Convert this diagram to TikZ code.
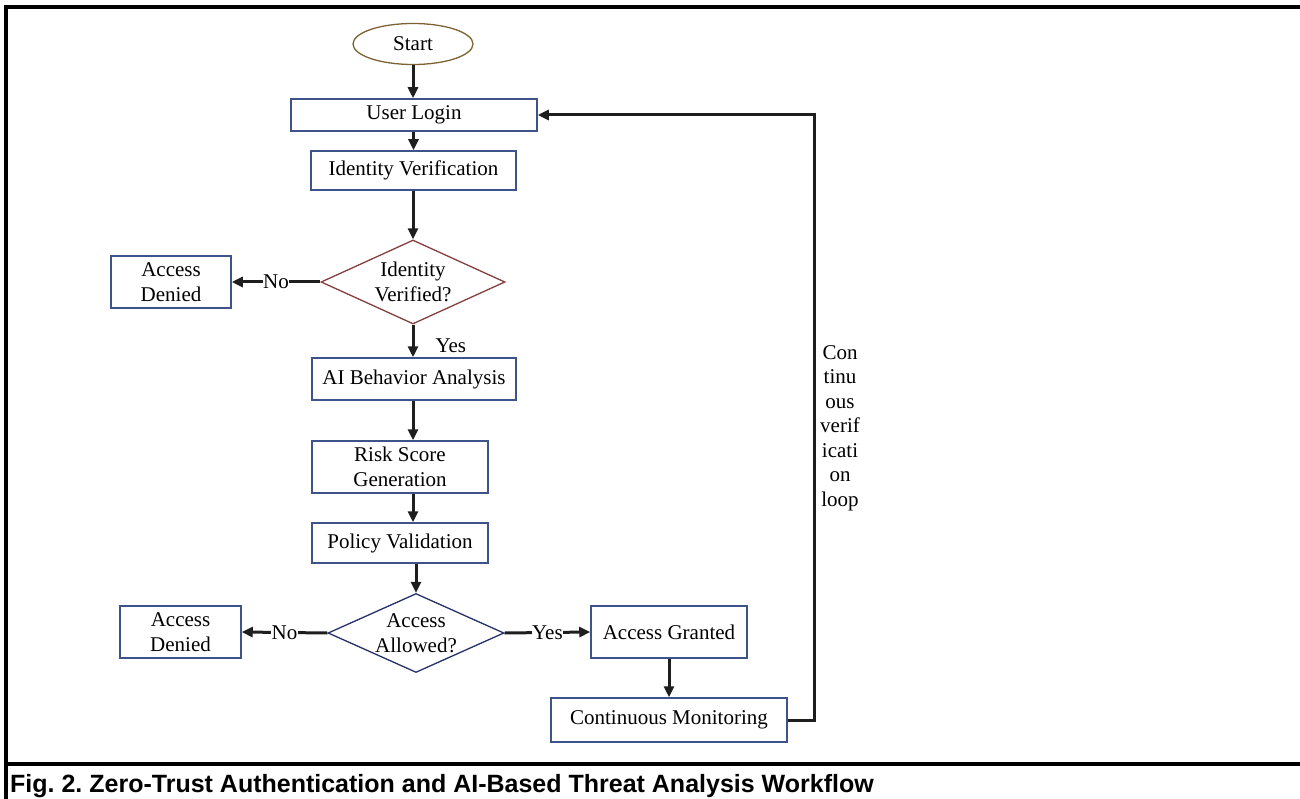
\documentclass[tikz,border=0pt]{standalone}
\usepackage{fontspec}
\setmainfont{Liberation Serif}
\setsansfont{Liberation Sans}
\usetikzlibrary{shapes.geometric,arrows.meta}
\definecolor{boxblue}{RGB}{62,82,140}
\definecolor{startbrown}{RGB}{125,98,52}
\definecolor{decred}{RGB}{132,62,62}
\definecolor{decblue}{RGB}{38,48,104}
\definecolor{arrowcol}{RGB}{30,30,30}
\frenchspacing
\tikzset{
  txt/.style={font=\rmfamily\fontsize{21}{24.5}\selectfont},
  stepbox/.style={txt, draw=boxblue, line width=1.5pt, fill=white, inner sep=0pt, align=center},
  startnode/.style={txt, ellipse, draw=startbrown, line width=1.3pt, inner sep=0pt, minimum width=120, minimum height=41},
  decnode/.style={txt, diamond, line width=1.3pt, inner sep=0pt, align=center},
  arr/.style={draw=arrowcol, line width=3pt, -{Triangle[length=11pt,width=10pt]}},
  lbl/.style={txt, fill=white, inner sep=0.5pt},
  frameline/.style={draw=black, line width=3.6pt}
}
\begin{document}
\begin{tikzpicture}[x=1pt,y=-1pt]
\useasboundingbox (0,0) rectangle (1300,799);
% frame
\draw[frameline] (6,799) -- (6,7) -- (1300,7);
\draw[frameline] (6,764) -- (1300,764);
% nodes
\node[startnode] (start) at (413,44) {Start};
\node[stepbox, minimum width=246, minimum height=32] (user) at (414,115) {User Login};
\node[stepbox, minimum width=205, minimum height=39] (idv) at (413.5,170.5) {Identity Verification};
\node[decnode, draw=decred, minimum width=184, minimum height=84, aspect=2.19] (dec1) at (413,282) {Identity\\Verified?};
\node[stepbox, minimum width=120, minimum height=52] (den1) at (171,282) {Access\\Denied};
\node[stepbox, minimum width=204, minimum height=42] (ai) at (414,379) {AI Behavior Analysis};
\node[stepbox, minimum width=176, minimum height=52] (risk) at (400,467) {Risk Score\\Generation};
\node[stepbox, minimum width=176, minimum height=40] (pol) at (400,543) {Policy Validation};
\node[decnode, draw=decblue, minimum width=176, minimum height=79, aspect=2.23] (dec2) at (416,633) {Access\\Allowed?};
\node[stepbox, minimum width=121, minimum height=52] (den2) at (180.5,632) {Access\\Denied};
\node[stepbox, minimum width=156, minimum height=52] (gr) at (669,632) {Access Granted};
\node[stepbox, minimum width=236, minimum height=44] (cm) at (669,720) {Continuous Monitoring};
\node[txt, align=center] (looptxt) at (840,428) {Con\\tinu\\ous\\verif\\icati\\on\\loop};
\coordinate (lp) at (814,115);
% caption
\node[anchor=west, inner sep=0pt, font=\sffamily\bfseries\fontsize{25}{30}\selectfont] (cap) at (10,786) {Fig. 2. Zero-Trust Authentication and AI-Based Threat Analysis Workflow};
% connectors
\draw[arr] (start.south) -- (start.south |- user.north);
\draw[arr] (user.south -| idv.north) -- (idv.north);
\draw[arr] (idv.south -| dec1.north) -- (dec1.north);
\draw[arr] (dec1.west) -- node[lbl] {No} (den1.east);
\draw[arr] (dec1.south) -- (dec1.south |- ai.north);
\node[txt, anchor=west] (yes1) at (432,346) {Yes};
\draw[arr] (ai.south -| dec1.south) -- (dec1.south |- risk.north);
\draw[arr] (risk.south -| dec1.south) -- (dec1.south |- pol.north);
\draw[arr] (pol.south -| dec2.north) -- (dec2.north);
\draw[arr] (dec2.west) -- node[lbl] {No} (den2.east);
\draw[arr] (dec2.east) -- node[lbl] {Yes} (gr.west);
\draw[arr] (gr.south) -- (cm.north);
\draw[arr] (cm.east) -| (lp) -- (user.east);
\end{tikzpicture}
\end{document}
